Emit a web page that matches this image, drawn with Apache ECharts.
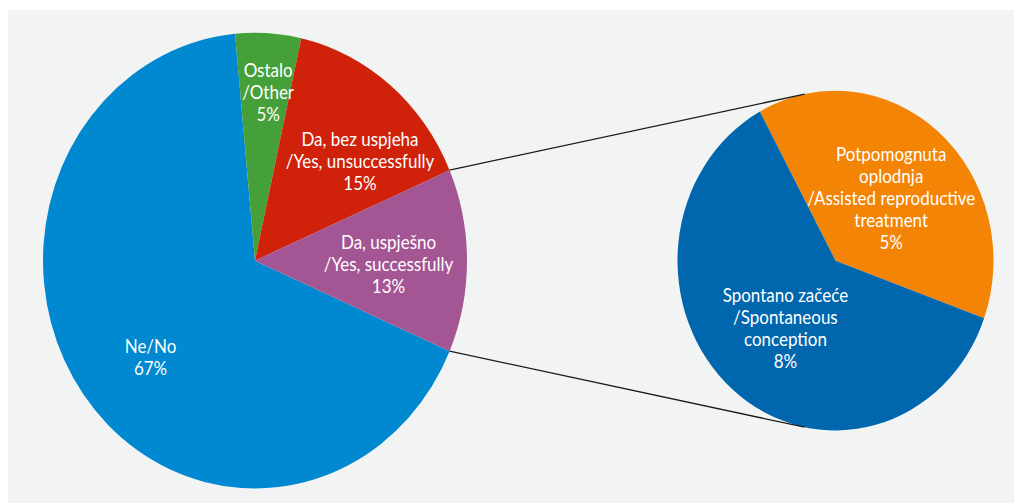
<!DOCTYPE html>
<html>
<head>
<meta charset="utf-8">
<script src="https://cdn.jsdelivr.net/npm/echarts@6/dist/echarts.min.js"></script>
<style>
  html, body { margin: 0; padding: 0; background: #ffffff; width: 1015px; height: 503px; overflow: hidden; }
  #panel { position: absolute; left: 8px; top: 10px; width: 1006px; height: 493px; background: #f2f4f4; }
  /* the figure is drawn slightly taller than wide, so the canvas is stretched vertically */
  #chart { position: absolute; left: 0; top: 0; width: 1015px; height: 468px;
           transform: scaleY(1.0748); transform-origin: 0 0; }
</style>
</head>
<body>
<div id="panel"></div>
<div id="chart"></div>
<script>
// Main pie: all answers (percent)
const mainCategories = [
  'Ne/No',
  'Ostalo\n/Other',
  'Da, bez uspjeha\n/Yes, unsuccessfully',
  'Da, uspješno\n/Yes, successfully'
];
const mainValues = [67, 5, 15, 13];

// Secondary pie: breakdown of "Da, uspješno" (percent of all answers)
const detailCategories = [
  'Potpomognuta\noplodnja\n/Assisted reproductive\ntreatment',
  'Spontano začeće\n/Spontaneous\nconception'
];
const detailValues = [5, 8];

const mainColors = ['#0088d0', '#45a03a', '#d0210a', '#a45594'];
const detailColors = ['#f38406', '#0066ad'];

// label placement inside each pie: [radius ratio, angular shift in degrees]
const labelSpots = [
  [[0.65, 4.7], [0.74, -1.2], [0.66, -9], [0.63, -1.4]],
  [[0.51, -3.1], [0.51, 2.2]]
];

const FONT = 'Lato, "Open Sans", sans-serif';
const RAD = Math.PI / 180;

const chart = echarts.init(document.getElementById('chart'), null, { renderer: 'svg' });

const mainTotal = mainValues.reduce((a, b) => a + b, 0);
// the broken-out slice is centred on the right-hand side
const mainStart = -(mainValues[mainValues.length - 1] / 2) / mainTotal * 360;

function itemLayout(seriesIndex, dataIndex) {
  return chart.getModel().getSeriesByIndex(seriesIndex).getData().getItemLayout(dataIndex);
}

const labelStyle = {
  position: 'inside',
  color: '#ffffff',
  fontFamily: FONT,
  fontSize: 17,
  lineHeight: 20.5,
  align: 'center',
  formatter: '{b}\n{c}%'
};

function placeLabel(p) {
  const L = itemLayout(p.seriesIndex, p.dataIndex);
  const spot = labelSpots[p.seriesIndex][p.dataIndex];
  const a = (L.startAngle + L.endAngle) / 2 - spot[1] * RAD;
  return {
    x: L.cx + L.r * spot[0] * Math.cos(a),
    y: L.cy + L.r * spot[0] * Math.sin(a),
    align: 'center',
    verticalAlign: 'middle'
  };
}

chart.setOption({
  animation: false,
  series: [
    {
      type: 'pie',
      center: [255, 242.5],
      radius: 212,
      startAngle: mainStart,
      clockwise: true,
      avoidLabelOverlap: false,
      silent: true,
      label: labelStyle,
      labelLine: { show: false },
      labelLayout: placeLabel,
      itemStyle: { borderWidth: 0 },
      data: mainCategories.map((name, i) => ({
        name: name, value: mainValues[i], itemStyle: { color: mainColors[i] }
      }))
    },
    {
      type: 'pie',
      center: [835.5, 242.5],
      radius: 158,
      startAngle: 118.6,
      clockwise: true,
      avoidLabelOverlap: false,
      silent: true,
      label: labelStyle,
      labelLine: { show: false },
      labelLayout: placeLabel,
      itemStyle: { borderWidth: 0 },
      data: detailCategories.map((name, i) => ({
        name: name, value: detailValues[i], itemStyle: { color: detailColors[i] }
      }))
    }
  ]
});

// connector lines: from the edges of the broken-out slice to tangent points on the detail pie
(function drawConnectors() {
  const last = mainValues.length - 1;
  const S = itemLayout(0, last);
  const D = itemLayout(1, 0);
  const ends = [S.startAngle, S.endAngle].map(a => [S.cx + S.r * Math.cos(a), S.cy + S.r * Math.sin(a)]);
  ends.sort((p, q) => p[1] - q[1]);

  function tangent(P, upper) {
    const dx = P[0] - D.cx, dy = P[1] - D.cy;
    const dist = Math.sqrt(dx * dx + dy * dy);
    const base = Math.atan2(dy, dx);
    const alpha = Math.acos(D.r / dist);
    const cands = [base + alpha, base - alpha].map(a => [D.cx + D.r * Math.cos(a), D.cy + D.r * Math.sin(a)]);
    cands.sort((p, q) => p[1] - q[1]);
    return upper ? cands[0] : cands[1];
  }

  const top = tangent(ends[0], true);
  const bottom = tangent(ends[1], false);
  const lineStyle = { stroke: '#1a1a1a', lineWidth: 1.2 };

  chart.setOption({
    graphic: [
      { type: 'line', silent: true, z: 10,
        shape: { x1: ends[0][0], y1: ends[0][1], x2: top[0], y2: top[1] }, style: lineStyle },
      { type: 'line', silent: true, z: 10,
        shape: { x1: ends[1][0], y1: ends[1][1], x2: bottom[0], y2: bottom[1] }, style: lineStyle }
    ]
  });
})();
</script>
</body>
</html>
